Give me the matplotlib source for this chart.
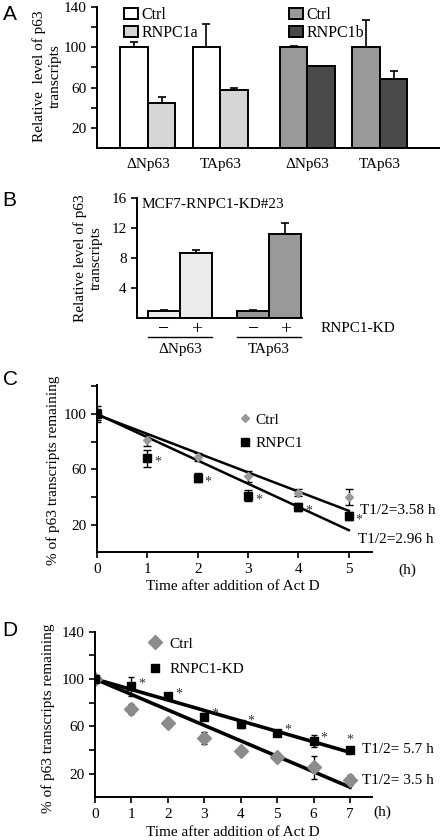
import matplotlib.pyplot as plt
import numpy as np
from matplotlib.patches import Patch
from matplotlib.lines import Line2D

plt.rcParams["font.family"] = ["Liberation Serif", "DejaVu Serif"]
plt.rcParams["font.size"] = 11
plt.rcParams["axes.linewidth"] = 1.4

# ---- data -------------------------------------------------------------
# panel A: relative p63 transcript levels (RNPC1 overexpression)
a_groups = ["ΔNp63", "TAp63", "ΔNp63", "TAp63"]
a_ctrl = [100, 100, 100, 100]
a_ctrl_err = [5, 23, 1.5, 27]
a_trt = [45, 58, 81, 69]
a_trt_err = [6, 1.5, 0, 7]

# panel B: RNPC1 knockdown
b_groups = ["ΔNp63", "TAp63"]
b_kd_labels = ["−", "+"]
b_minus = [1.0, 1.0]
b_minus_err = [0.1, 0.15]
b_plus = [8.7, 11.3]
b_plus_err = [0.45, 1.4]

# panel C: p63 mRNA decay, RNPC1 overexpression
c_time = [0, 1, 2, 3, 4, 5]
c_ctrl = [100, 81, 69, 55, 43, 40]
c_ctrl_err = [6, 4, 3, 4, 2.5, 6]
c_rnpc1 = [100, 68, 54, 41, 33, 26]
c_rnpc1_err = [4, 6, 3, 4, 3, 3]
c_fit_x = [0, 5]
c_fit_ctrl = [99.5, 30]
c_fit_rnpc1 = [100, 16]
c_half = ["T1/2=3.58 h", "T1/2=2.96 h"]

# panel D: p63 mRNA decay, RNPC1 knockdown
d_time = [0, 1, 2, 3, 4, 5, 6, 7]
d_ctrl = [100, 74.5, 62.6, 50.4, 39.1, 34.2, 25.2, 14.5]
d_ctrl_err = [0, 4, 1, 5, 0, 1, 10, 4]
d_kd = [100, 93.8, 85.3, 68.3, 61.8, 54.6, 47.8, 40]
d_kd_err = [0, 8, 2, 3, 3, 1, 5, 2]
d_fit_x = [0, 7]
d_fit_ctrl = [100, 8.5]
d_fit_kd = [100, 38]
d_half = ["T1/2= 5.7 h", "T1/2= 3.5 h"]

W, H = 440, 840
fig = plt.figure(figsize=(W / 100, H / 100), dpi=100)


def box(l, t, r, b):
    return [l / W, 1 - b / H, (r - l) / W, (b - t) / H]


def fx(x):
    return x / W


def fy(y):
    return 1 - y / H


def style(ax):
    for s in ("top", "right"):
        ax.spines[s].set_visible(False)
    ax.tick_params(direction="out", length=4, width=1.2, labelsize=11)


sans = ["Liberation Sans", "DejaVu Sans"]
for lab, (x, y) in zip("ABCD", [(10, 15), (9, 200), (10, 380), (10, 631)]):
    fig.text(fx(x), fy(y), lab, family=sans, fontsize=15, ha="center", va="center")

# ---- A ----------------------------------------------------------------
axA = fig.add_axes(box(97, 7, 440, 148))
style(axA)
pos = np.array([0, 1, 2.2, 3.2])
bw = 0.38
ctrl_cols = ["white", "white", "#999999", "#999999"]
trt_cols = ["#d6d6d6", "#d6d6d6", "#4a4a4a", "#4a4a4a"]
axA.bar(pos - bw / 2, a_ctrl, bw, color=ctrl_cols, edgecolor="black", lw=1.4,
        yerr=[np.zeros(4), a_ctrl_err], capsize=3,
        error_kw=dict(elinewidth=1.2, capthick=1.2))
axA.bar(pos + bw / 2, a_trt, bw, color=trt_cols, edgecolor="black", lw=1.4,
        yerr=[np.zeros(4), a_trt_err], capsize=3,
        error_kw=dict(elinewidth=1.2, capthick=1.2))
axA.set_xlim(-0.7, 4.03)
axA.set_ylim(0, 140)
axA.set_yticks(np.arange(20, 141, 20))
axA.set_yticklabels([str(v) if v in (20, 60, 100, 140) else "" for v in range(20, 141, 20)])
axA.set_xticks(pos)
axA.set_xticklabels(a_groups)
axA.tick_params(axis="x", length=0, pad=7)
fig.text(fx(47), fy(76), "Relative  level of p63\ntranscripts", rotation=90,
         ha="center", va="center", linespacing=1.3)
leg_kw = dict(frameon=False, handlelength=0.9, handleheight=0.7, handletextpad=0.2,
              labelspacing=0.15, borderpad=0, borderaxespad=0, fontsize=11.5,
              loc="upper left", bbox_transform=fig.transFigure)
l1 = axA.legend([Patch(fc="white", ec="black", lw=1.4), Patch(fc="#d6d6d6", ec="black", lw=1.4)],
                ["Ctrl", "RNPC1a"], bbox_to_anchor=(fx(124), fy(7)), **leg_kw)
axA.add_artist(l1)
axA.legend([Patch(fc="#999999", ec="black", lw=1.4), Patch(fc="#4a4a4a", ec="black", lw=1.4)],
           ["Ctrl", "RNPC1b"], bbox_to_anchor=(fx(289), fy(7)), **leg_kw)

# ---- B ----------------------------------------------------------------
axB = fig.add_axes(box(137, 198.3, 302, 318.3))
style(axB)
bpos = np.array([0, 1])
bw = 0.36
cols = ["#ebebeb", "#999999"]
axB.bar(bpos - bw / 2, b_minus, bw, color=cols, edgecolor="black", lw=1.4,
        yerr=[np.zeros(2), b_minus_err], capsize=3,
        error_kw=dict(elinewidth=1.2, capthick=1.2))
axB.bar(bpos + bw / 2, b_plus, bw, color=cols, edgecolor="black", lw=1.4,
        yerr=[np.zeros(2), b_plus_err], capsize=3,
        error_kw=dict(elinewidth=1.2, capthick=1.2))
axB.set_xlim(-0.483, 1.37)
axB.set_ylim(0, 16)
axB.set_yticks([4, 8, 12, 16])
ticks = np.concatenate([bpos - bw / 2, bpos + bw / 2])
axB.set_xticks(ticks)
axB.set_xticklabels([b_kd_labels[0]] * 2 + [b_kd_labels[1]] * 2, fontsize=14)
axB.tick_params(axis="x", length=0, pad=2)
tr = axB.get_xaxis_transform()
for p, g in zip(bpos, b_groups):
    axB.plot([p - bw, p + bw], [-0.155, -0.155], color="black", lw=1,
             transform=tr, clip_on=False)
    axB.text(p, -0.26, g, transform=tr, ha="center", va="center")
axB.text(0.03, 0.95, "MCF7-RNPC1-KD#23", transform=axB.transAxes, ha="left", va="center")
fig.text(fx(321), fy(328), "RNPC1-KD", ha="left", va="center")
fig.text(fx(88), fy(258), "Relative level of p63\ntranscripts", rotation=90,
         ha="center", va="center", linespacing=1.25)

# ---- C ----------------------------------------------------------------
axC = fig.add_axes(box(97, 385, 372, 552.3))
style(axC)
axC.plot(c_fit_x, c_fit_ctrl, color="black", lw=1.8)
axC.plot(c_fit_x, c_fit_rnpc1, color="black", lw=1.8)
axC.errorbar(c_time, c_ctrl, yerr=c_ctrl_err, fmt="D", ms=4, color="#999999",
             ecolor="black", elinewidth=1, capsize=3, capthick=1, label="Ctrl")
axC.errorbar(c_time, c_rnpc1, yerr=c_rnpc1_err, fmt="s", ms=5.5, color="black",
             ecolor="black", elinewidth=1, capsize=3, capthick=1, label="RNPC1")
for t, v in zip(c_time[1:], c_rnpc1[1:]):
    axC.annotate("*", (t, v), xytext=(5, -3), textcoords="offset points",
                 ha="left", va="center", fontsize=10, color="#333333")
axC.set_xlim(0, 5.46)
axC.set_ylim(0, 121)
axC.set_xticks(c_time)
axC.set_yticks(np.arange(20, 121, 20))
axC.set_yticklabels([str(v) if v in (20, 60, 100) else "" for v in range(20, 121, 20)])
axC.text(5.23, 30, c_half[0], ha="left", va="center")
axC.text(5.19, 9.5, c_half[1], ha="left", va="center")
fig.text(fx(407), fy(570), "(h)", ha="center", va="center")
fig.text(fx(233), fy(587), "Time after addition of Act D", ha="center", va="center")
fig.text(fx(53), fy(470), "% of p63 transcripts remaining", rotation=90,
         ha="center", va="center")
axC.legend([Line2D([], [], ls="", marker="D", ms=4, color="#999999"),
            Line2D([], [], ls="", marker="s", ms=5.5, color="black")],
           ["Ctrl", "RNPC1"], frameon=False, handlelength=0.6, handletextpad=0.4,
           labelspacing=0.65, borderpad=0, borderaxespad=0, loc="upper left",
           bbox_to_anchor=(fx(240), fy(413)), bbox_transform=fig.transFigure)

# ---- D ----------------------------------------------------------------
axD = fig.add_axes(box(95, 631.7, 372, 797.3))
style(axD)
axD.plot(d_fit_x, d_fit_ctrl, color="black", lw=2.6)
axD.plot(d_fit_x, d_fit_kd, color="black", lw=2.6)
axD.errorbar(d_time, d_ctrl, yerr=d_ctrl_err, fmt="D", ms=7, color="#8c8c8c",
             ecolor="black", elinewidth=1, capsize=2, capthick=1)
axD.errorbar(d_time, d_kd, yerr=d_kd_err, fmt="s", ms=5.5, color="black",
             ecolor="black", elinewidth=1, capsize=2, capthick=1)
for t, v in zip(d_time[1:], d_kd[1:]):
    off = (0, 7) if t == d_time[-1] else (5, 2)
    axD.annotate("*", (t, v), xytext=off, textcoords="offset points",
                 ha="center" if t == d_time[-1] else "left", va="center",
                 fontsize=10, color="#333333")
axD.set_xlim(0, 7.6)
axD.set_ylim(0, 140)
axD.set_xticks(d_time)
axD.set_yticks(np.arange(20, 141, 20))
axD.set_yticklabels([str(v) if v in (20, 60, 100, 140) else "" for v in range(20, 141, 20)])
axD.text(7.33, 40.2, d_half[0], ha="left", va="center")
axD.text(7.33, 13.8, d_half[1], ha="left", va="center")
fig.text(fx(382), fy(812), "(h)", ha="center", va="center")
fig.text(fx(233), fy(832), "Time after addition of Act D", ha="center", va="center")
fig.text(fx(48), fy(718), "% of p63 transcripts remaining", rotation=90,
         ha="center", va="center")
axD.legend([Line2D([], [], ls="", marker="D", ms=7.5, color="#8c8c8c"),
            Line2D([], [], ls="", marker="s", ms=6, color="black")],
           ["Ctrl", "RNPC1-KD"], frameon=False, handlelength=0.7, handletextpad=0.6,
           labelspacing=0.75, borderpad=0, borderaxespad=0, loc="upper left",
           bbox_to_anchor=(fx(150), fy(637)), bbox_transform=fig.transFigure)

fig.savefig("out.png", dpi=100)
